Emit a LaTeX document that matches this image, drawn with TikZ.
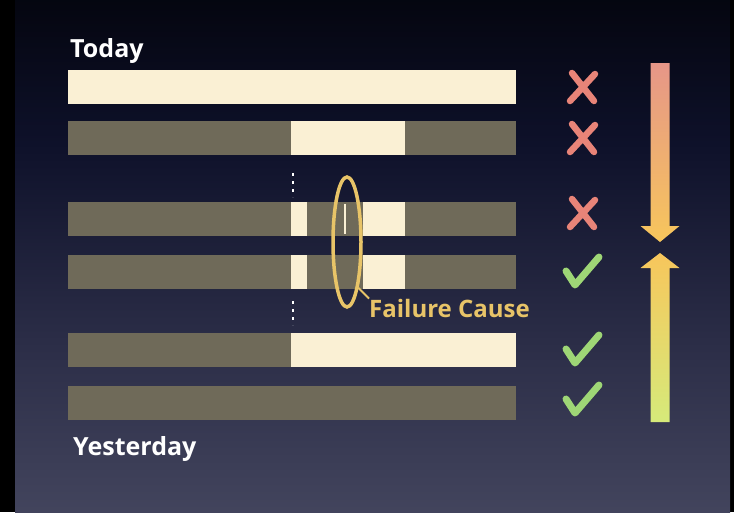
\documentclass[tikz,border=0pt]{standalone}
\usepackage{fontspec}
\setmainfont{Open Sans}
\usetikzlibrary{positioning,shapes.geometric}

\definecolor{barra}{RGB}{111,106,89}
\definecolor{creme}{RGB}{250,240,212}
\definecolor{ouro}{RGB}{232,196,104}
\definecolor{erro}{RGB}{232,132,120}
\definecolor{certo}{RGB}{158,214,118}
\definecolor{salmao}{RGB}{230,150,136}
\definecolor{amarelo}{RGB}{247,198,92}
\definecolor{lima}{RGB}{214,234,122}

\pgfdeclareverticalshading{fundo}{100bp}{%
  color(0bp)=(rgb,255:red,92;green,94;blue,116);
  color(18bp)=(rgb,255:red,76;green,78;blue,102);
  color(41bp)=(rgb,255:red,44;green,46;blue,72);
  color(61bp)=(rgb,255:red,14;green,17;blue,42);
  color(77bp)=(rgb,255:red,3;green,4;blue,12);
  color(100bp)=(black)}

\begin{document}
\begin{tikzpicture}[
  x=1pt, y=-1pt,
  bar/.style   = {fill=barra, minimum width=448pt, minimum height=34pt,
                  inner sep=0pt},
  rotulo/.style = {text=white, inner sep=0pt, anchor=base west,
                   font=\fontsize{25}{30}\selectfont\bfseries},
  xis/.pic     = {\draw[erro, line width=6.5pt, line cap=round]
                    (-11,-14) -- (11,14) (12,-13) -- (-13,14);},
  ok/.pic      = {\draw[certo, line width=7pt, line cap=round, line join=round]
                    (-17,-1) -- (-8,13) -- (16,-15);}
]
  \useasboundingbox (0,0) rectangle (734,512);
  \fill[black] (0,0) rectangle (734,512);
  \shade[shading=fundo] (15,0) rectangle (730,512);

  % Barras de cima para baixo
  \node[bar, fill=creme] (r1) at (292,87)  {};
  \node[bar]             (r2) at (292,138) {};
  \node[bar]             (r3) at (292,219) {};
  \node[bar]             (r4) at (292,272) {};
  \node[bar]             (r5) at (292,350) {};
  \node[bar]             (r6) at (292,403) {};

  % Partes claras
  \fill[creme] (291,121) rectangle (405,155);
  \fill[creme] (291,202) rectangle (307,236);
  \fill[creme] (344,204) rectangle (346,234);
  \fill[creme] (363,202) rectangle (405,236);
  \fill[creme] (291,255) rectangle (307,289);
  \fill[creme] (363,255) rectangle (405,289);
  \fill[creme] (291,333) rectangle (516,367);

  % Pontos
  \draw[white, line width=2.5pt, dash pattern=on 2.5pt off 5.5pt]
    (293,173) -- (293,197);
  \draw[white, line width=2.5pt, dash pattern=on 2.5pt off 5.5pt]
    (293,301) -- (293,325);

  % Textos
  \node[rotulo] (today) at (70,57)  {Today};
  \node[rotulo] (yest)  at (73,455) {Yesterday};

  % Causa da falha
  \node[draw=ouro, line width=3.5pt, ellipse, minimum width=28pt,
        minimum height=130pt, inner sep=0pt] (causa) at (347,242) {};
  \node[rotulo, text=ouro, font=\fontsize{24}{28}\selectfont\bfseries]
        (falha) at (369,317) {Failure Cause};
  \draw[ouro, line width=2pt] (causa.-76) -- (falha.north west);

  % Marcas
  \pic at (583,87)  {xis};
  \pic at (583,138) {xis};
  \pic at (583,213) {xis};
  \pic at (583,272) {ok};
  \pic at (583,350) {ok};
  \pic at (583,400) {ok};

  % Setas
  \coordinate (dtop) at (660,63);
  \coordinate (dtip) at (660,242);
  \coordinate (utip) at (660,253);
  \coordinate (ubot) at (660,422);
  \shade[top color=salmao, bottom color=amarelo]
    ([xshift=-9.5pt]dtop) -- ([xshift=9.5pt]dtop) -- ([xshift=9.5,yshift=16]dtip)
    -- ([xshift=19.5,yshift=16]dtip) -- (dtip) -- ([xshift=-19.5,yshift=16]dtip)
    -- ([xshift=-9.5,yshift=16]dtip) -- cycle;
  \shade[top color=amarelo, bottom color=lima]
    ([xshift=-9.5pt]ubot) -- ([xshift=9.5pt]ubot) -- ([xshift=9.5,yshift=-15]utip)
    -- ([xshift=19.5,yshift=-15]utip) -- (utip) -- ([xshift=-19.5,yshift=-15]utip)
    -- ([xshift=-9.5,yshift=-15]utip) -- cycle;
\end{tikzpicture}
\end{document}
